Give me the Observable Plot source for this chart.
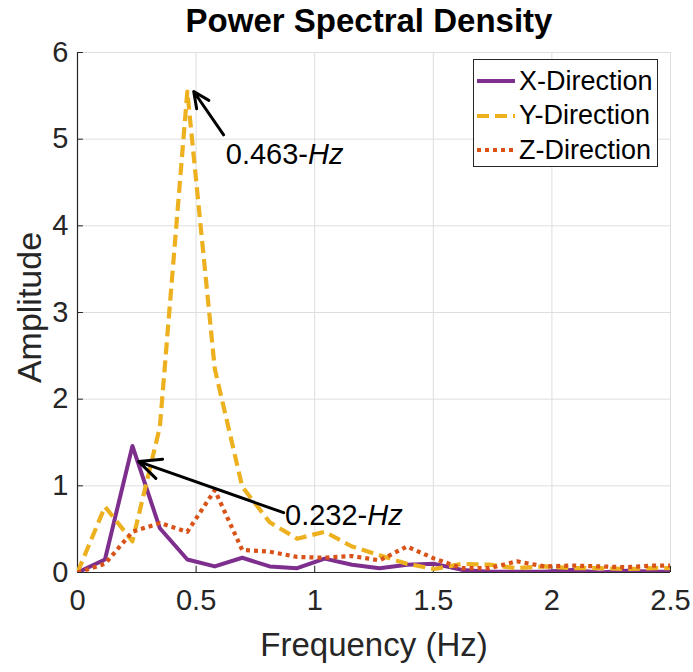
<!DOCTYPE html>
<html>
<head>
<meta charset="utf-8">
<script src="https://cdn.jsdelivr.net/npm/d3@7"></script>
<script src="https://cdn.jsdelivr.net/npm/@observablehq/plot@0.6"></script>
<style>
  html, body { margin: 0; padding: 0; background: #fff; }
  #wrap { position: relative; width: 693px; height: 672px; font-family: "Liberation Sans", Arial, sans-serif; }
  #legend { position: absolute; left: 473px; top: 59px; width: 183px; height: 106px; border: 1px solid #262626; background: #fff; }
  #legend .row { position: absolute; left: 0; height: 30px; display: flex; align-items: center; font-size: 27px; color: #000; }
  #legend svg { margin-left: 3px; margin-right: 4px; }
</style>
</head>
<body>
<div id="wrap"></div>
<script>
// ---- data ----
const freq = [0, 0.1158, 0.2315, 0.3473, 0.4630, 0.5788, 0.6945, 0.8103, 0.9260, 1.0418, 1.1575, 1.2733, 1.3890, 1.5048, 1.6205, 1.7363, 1.8520, 1.9678, 2.0835, 2.1993, 2.3150, 2.4308, 2.5465];
const xDir = [0, 0.15, 1.46, 0.51, 0.15, 0.07, 0.17, 0.07, 0.05, 0.16, 0.09, 0.05, 0.09, 0.10, 0.03, 0.01, 0.01, 0.01, 0.03, 0.00, 0.02, 0.01, 0.01];
const yDir = [0, 0.76, 0.36, 1.68, 5.55, 2.35, 0.99, 0.58, 0.39, 0.47, 0.30, 0.20, 0.10, 0.04, 0.10, 0.09, 0.05, 0.07, 0.05, 0.05, 0.04, 0.05, 0.05];
const zDir = [0, 0.10, 0.47, 0.57, 0.47, 0.95, 0.26, 0.24, 0.18, 0.17, 0.19, 0.14, 0.30, 0.16, 0.05, 0.05, 0.13, 0.07, 0.08, 0.07, 0.06, 0.08, 0.08];
const seriesNames = ["X-Direction", "Y-Direction", "Z-Direction"];
const seriesColors = ["#7E2F8E", "#EDB120", "#D95319"];
const seriesDash = [null, "12,6", "4,4"];
const xTicks = [0, 0.5, 1, 1.5, 2, 2.5];
const yTicks = [0, 1, 2, 3, 4, 5, 6];
const titleText = "Power Spectral Density";
const xLabel = "Frequency (Hz)";
const yLabel = "Amplitude";
// annotations (arrow tail -> head, label anchor)
const annX1 = [0.616, 0.869];
const annY1 = [5.05, 0.69];
const annX2 = [0.490, 0.258];
const annY2 = [5.55, 1.28];
const annTextX = [0.625, 0.875];
const annTextY = [4.82, 0.66];
const annText = ["0.463-Hz", "0.232-Hz"];

// ---- build ----
const allSeries = [xDir, yDir, zDir];
const lineMarks = allSeries.map((vals, i) => Plot.line(freq.map((f, j) => ({f, v: vals[j]})), {
  x: "f", y: "v", stroke: seriesColors[i], strokeWidth: i === 0 ? 4 : 4.2,
  strokeDasharray: seriesDash[i] || undefined, strokeLinecap: "butt", strokeLinejoin: "round", clip: true
}));
const arrows = annX1.map((x1, i) => ({x1, y1: annY1[i], x2: annX2[i], y2: annY2[i]}));
const labels = annText.map((t, i) => ({t, x: annTextX[i], y: annTextY[i]}));

const chart = Plot.plot({
  width: 693, height: 672,
  marginLeft: 77, marginRight: 23, marginTop: 52, marginBottom: 100,
  style: {fontFamily: "'Liberation Sans', Arial, sans-serif", fontSize: "29px", color: "#262626", background: "white"},
  x: {domain: [0, 2.5]},
  y: {domain: [0, 6]},
  marks: [
    Plot.gridX(xTicks, {stroke: "#dedede", strokeOpacity: 1, strokeWidth: 1}),
    Plot.gridY(yTicks, {stroke: "#dedede", strokeOpacity: 1, strokeWidth: 1}),
    Plot.axisX(xTicks, {tickSize: 0, tickPadding: 17, fontSize: 29, label: null, fill: "#262626", tickFormat: d => String(d)}),
    Plot.axisY(yTicks, {tickSize: 0, tickPadding: 9, fontSize: 29, label: null, fill: "#262626", tickFormat: d => String(d)}),
    Plot.ruleX(xTicks, {x: d => d, y1: 0, y2: 0.07, stroke: "#262626", strokeWidth: 1}),
    Plot.ruleY(yTicks, {y: d => d, x1: 0, x2: 0.025, stroke: "#262626", strokeWidth: 1}),
    Plot.ruleX([0], {stroke: "#262626", strokeWidth: 1.2}),
    Plot.ruleY([0], {stroke: "#262626", strokeWidth: 1.2}),
    ...lineMarks,
    Plot.arrow(arrows, {x1: "x1", y1: "y1", x2: "x2", y2: "y2", stroke: "black", strokeWidth: 3, headLength: 12, headAngle: 50, bend: 0}),
    Plot.text(labels, {x: "x", y: "y", text: "t", textAnchor: "start", fontSize: 29, fill: "black"}),
    Plot.text([titleText], {frameAnchor: "top", lineAnchor: "middle", dy: -31, dx: -5, fontSize: 33, fontWeight: "bold", fill: "black"}),
    Plot.text([xLabel], {frameAnchor: "bottom", lineAnchor: "middle", dy: 73, fontSize: 33, fill: "#262626"}),
    Plot.text([yLabel], {frameAnchor: "left", textAnchor: "middle", lineAnchor: "middle", dx: -47, dy: -5, rotate: -90, fontSize: 34, fill: "#262626"})
  ]
});

// italicize "Hz" in the annotation labels
d3.select(chart).selectAll("text").each(function() {
  const s = this.textContent;
  if (annText.includes(s)) {
    const base = s.replace(/Hz$/, "");
    const t = d3.select(this);
    t.text(base);
    t.append("tspan").attr("font-style", "italic").text("Hz");
  }
});

const wrap = document.getElementById("wrap");
wrap.appendChild(chart);

// legend
const legend = document.createElement("div");
legend.id = "legend";
seriesNames.forEach((name, i) => {
  const row = document.createElement("div");
  row.className = "row";
  row.style.top = (6 + i * 34.5) + "px";
  const ns = "http://www.w3.org/2000/svg";
  const svg = document.createElementNS(ns, "svg");
  svg.setAttribute("width", 38); svg.setAttribute("height", 10);
  const ln = document.createElementNS(ns, "line");
  ln.setAttribute("x1", 0); ln.setAttribute("x2", 38); ln.setAttribute("y1", 5); ln.setAttribute("y2", 5);
  ln.setAttribute("stroke", seriesColors[i]); ln.setAttribute("stroke-width", 4.2);
  if (seriesDash[i]) ln.setAttribute("stroke-dasharray", i === 1 ? "12,6" : "4,4");
  svg.appendChild(ln);
  row.appendChild(svg);
  const span = document.createElement("span");
  span.textContent = name;
  row.appendChild(span);
  legend.appendChild(row);
});
wrap.appendChild(legend);
</script>
</body>
</html>
